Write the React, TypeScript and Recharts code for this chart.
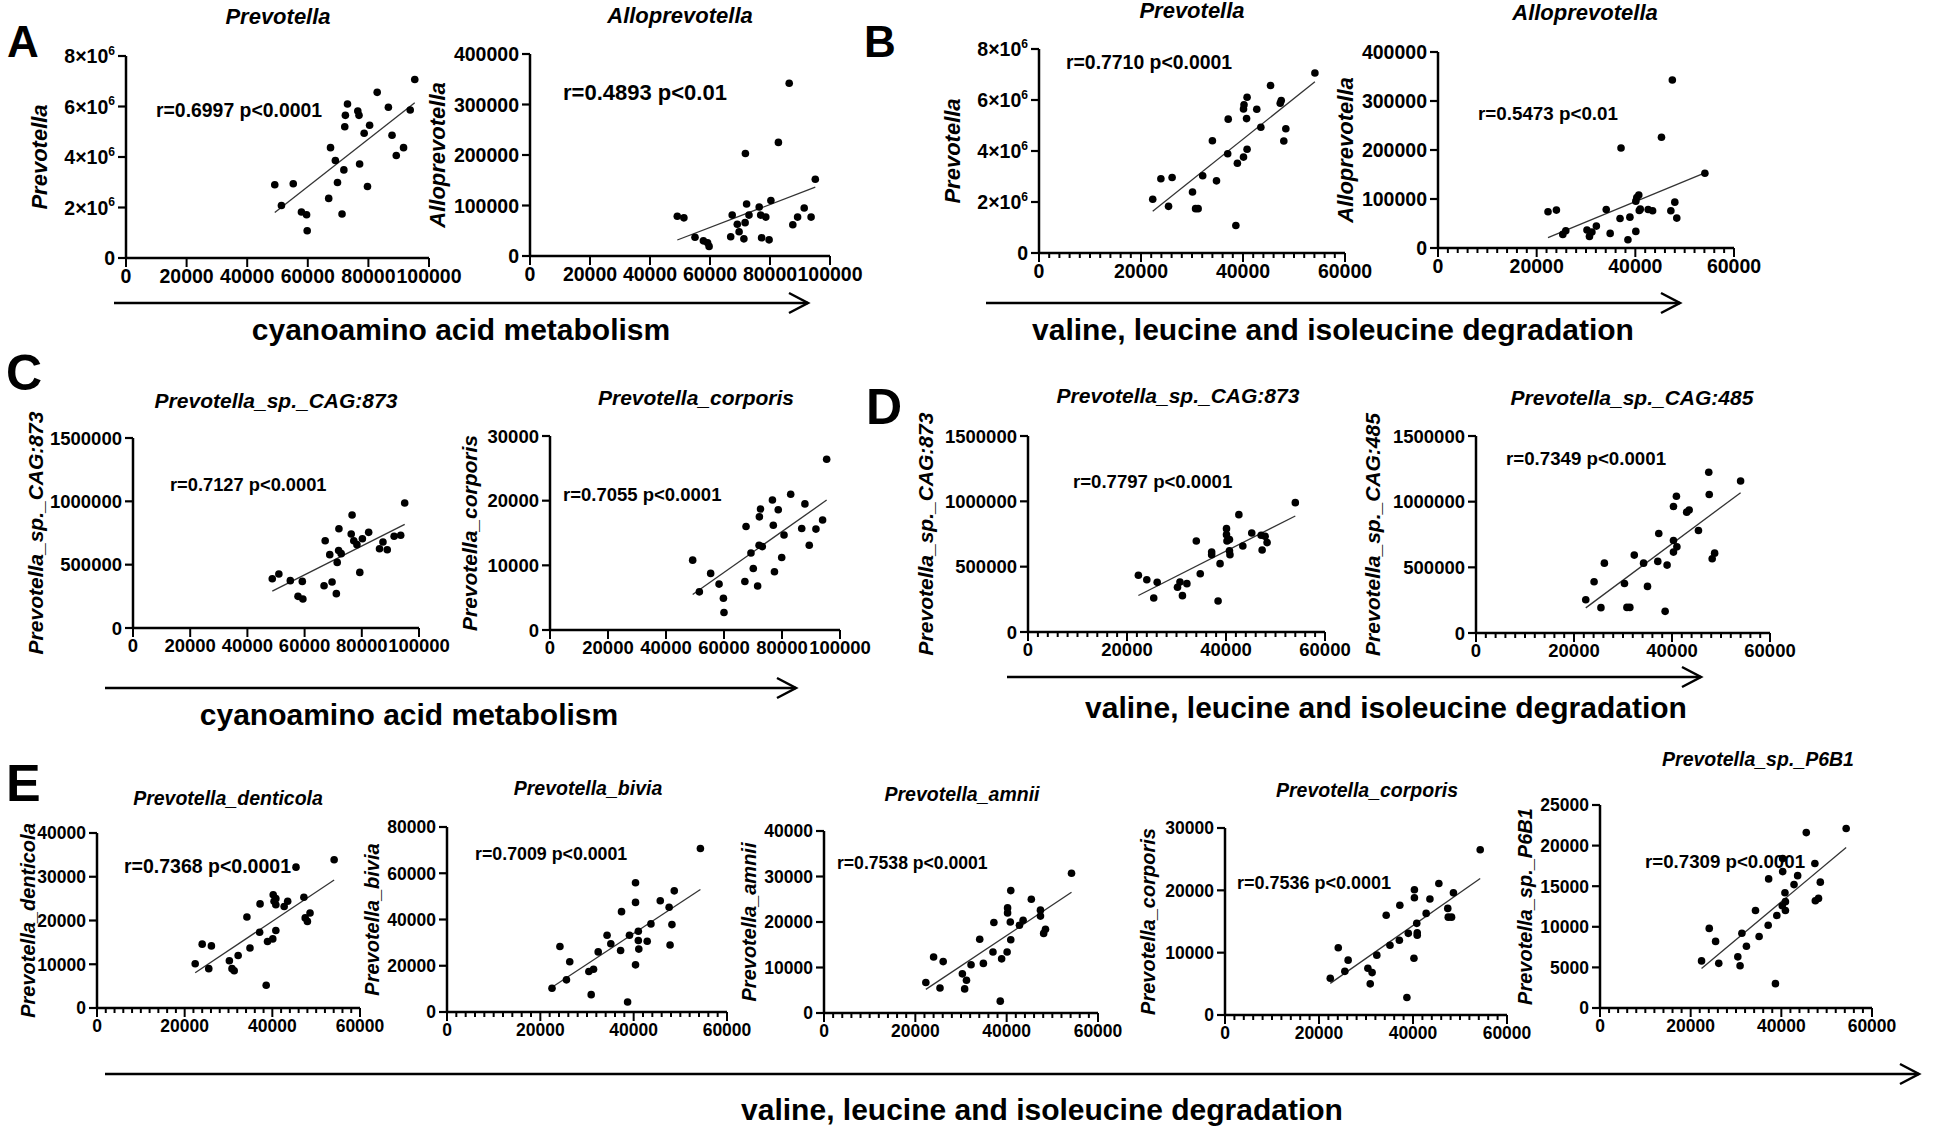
import React from "react";
import { ScatterChart, Scatter, XAxis, YAxis, ReferenceLine } from "recharts";

const FONT = '"Liberation Sans", Arial, Helvetica, sans-serif';

// ---- x tick values ----
const cyanoTicks = [0, 20000, 40000, 60000, 80000, 100000];
const valineTicks = [0, 20000, 40000, 60000];
const valineMinor = Array.from({ length: 31 }, (_, i) => i * 2000);

// ---- y tick values ----
const prevotellaTicks = [0, 2000000, 4000000, 6000000, 8000000];
const alloTicks = [0, 100000, 200000, 300000, 400000];
const cagTicks = [0, 500000, 1000000, 1500000];
const corporisTicks = [0, 10000, 20000, 30000];
const denticolaTicks = [0, 10000, 20000, 30000, 40000];
const biviaTicks = [0, 20000, 40000, 60000, 80000];
const amniiTicks = [0, 10000, 20000, 30000, 40000];
const p6b1Ticks = [0, 5000, 10000, 15000, 20000, 25000];

// ---- A: cyanoamino acid metabolism ----
const aPrevX = [49100, 51300, 55200, 57900, 59600, 59800, 66900, 67500, 69100, 69800, 71300, 71900, 72200, 72400, 73100, 76500, 76900, 77100, 78600, 79700, 80400, 82900, 86600, 87800, 89200, 91600, 93800, 95300];
const aPrevY = [2900000, 2080000, 2940000, 1820000, 1710000, 1080000, 2360000, 4370000, 3860000, 2990000, 1740000, 3490000, 5200000, 5650000, 6100000, 5820000, 5650000, 3720000, 4940000, 2830000, 5260000, 6560000, 5970000, 4860000, 4060000, 4370000, 5860000, 7070000];
const aAlloX = [49100, 51300, 55000, 57800, 59200, 59700, 66900, 67400, 69100, 69700, 71300, 71700, 71800, 72200, 73000, 76400, 76900, 77200, 78600, 79700, 80300, 82800, 86400, 87600, 89200, 91400, 93700, 95100];
const aAlloY = [78800, 75500, 37000, 30000, 26000, 19000, 38000, 81000, 63000, 48000, 34000, 66000, 203000, 103000, 81000, 97000, 81000, 36000, 77000, 32000, 110000, 225000, 342000, 62000, 77000, 95000, 77000, 152000];

// ---- B: valine, leucine and isoleucine degradation ----
const bPrevX = [22300, 23900, 25400, 26100, 30100, 30700, 31200, 32100, 34000, 34800, 37000, 37100, 38600, 38900, 40100, 40100, 40200, 40700, 40800, 40800, 42700, 43500, 45400, 47300, 47500, 48000, 48400, 54100];
const bPrevY = [2110000, 2910000, 1830000, 2960000, 2390000, 1740000, 1740000, 3030000, 4400000, 2830000, 3890000, 5250000, 1080000, 3520000, 3760000, 5650000, 5810000, 5270000, 6110000, 4070000, 5640000, 4930000, 6570000, 5870000, 5980000, 4390000, 4870000, 7060000];
const bAlloX = [22300, 24000, 25300, 25900, 30200, 30700, 31200, 32100, 34100, 34900, 36900, 37100, 38500, 38900, 40100, 40100, 40300, 40700, 40800, 41000, 42600, 43500, 45300, 47200, 47500, 48000, 48400, 54100];
const bAlloY = [73900, 77300, 27800, 35300, 36600, 23700, 32500, 44700, 78600, 29800, 60300, 204000, 16900, 63000, 33900, 95600, 103000, 108000, 76600, 79300, 78600, 75900, 226000, 75900, 343000, 93600, 61000, 152500];

// ---- C: cyanoamino acid metabolism ----
const cCagX = [48700, 51000, 55000, 57700, 59400, 59200, 66800, 67200, 68800, 69600, 71100, 71400, 71900, 72000, 72800, 76300, 76600, 77200, 78300, 79300, 80200, 82400, 86200, 87400, 88900, 91300, 93600, 95000];
const cCagY = [389000, 426000, 374000, 250000, 229000, 368000, 334000, 689000, 579000, 363000, 271000, 518000, 611000, 784000, 587000, 742000, 892000, 689000, 658000, 439000, 705000, 755000, 626000, 679000, 618000, 724000, 732000, 987000];
const cCorpX = [49200, 51500, 55400, 58300, 59800, 60000, 67200, 67600, 69300, 70100, 71600, 72100, 72200, 72600, 73200, 76700, 77000, 77400, 78700, 79900, 80700, 83000, 86800, 87900, 89400, 91700, 94000, 95400];
const cCorpY = [10800, 5900, 8750, 7100, 4900, 2700, 7500, 16000, 11900, 9500, 6800, 13100, 17500, 18700, 12900, 20100, 16200, 9000, 18600, 11200, 14700, 21000, 15700, 19500, 13100, 15600, 17000, 26400];

// ---- D: valine, leucine and isoleucine degradation ----
const dCag873X = [22300, 24000, 25400, 26100, 30200, 30700, 31200, 32100, 34000, 34800, 37100, 37100, 38400, 38800, 40100, 40100, 40200, 40700, 40700, 40800, 42600, 43400, 45200, 47100, 47300, 47900, 48300, 54000];
const dCag873Y = [434000, 400000, 260000, 380000, 342000, 383000, 278000, 370000, 696000, 446000, 612000, 592000, 237000, 523000, 791000, 745000, 696000, 707000, 622000, 592000, 898000, 658000, 758000, 740000, 628000, 732000, 684000, 990000];
const dCag485X = [22400, 24100, 25500, 26200, 30300, 30800, 31400, 32300, 34200, 35000, 37100, 37300, 38600, 39000, 40300, 40300, 40300, 41000, 40900, 43000, 43500, 45400, 47500, 47600, 48200, 48700, 54000];
const dCag485Y = [253000, 390000, 193000, 532000, 377000, 195000, 195000, 593000, 532000, 355000, 545000, 758000, 165000, 517000, 616000, 704000, 963000, 656000, 1041000, 920000, 937000, 780000, 1224000, 1054000, 565000, 608000, 1157000];

// ---- E: valine, leucine and isoleucine degradation ----
const eDentX = [22400, 24000, 25500, 26100, 30200, 30800, 31300, 32200, 34200, 34900, 37100, 37200, 38600, 38900, 40100, 40200, 40400, 40800, 40800, 40800, 42700, 43500, 45400, 47200, 47500, 48000, 48600, 54100];
const eDentY = [10100, 14600, 9000, 14200, 10800, 9000, 8500, 12000, 20800, 13700, 17300, 23800, 5200, 15200, 15800, 25900, 24400, 25000, 23600, 17700, 23200, 24400, 32200, 25300, 20600, 19800, 21700, 33900];
const eBiviaX = [22500, 24200, 25600, 26300, 30400, 30900, 31400, 32400, 34300, 35100, 37200, 37400, 38700, 39100, 40400, 40400, 40400, 41000, 41000, 41100, 42900, 43700, 45700, 47600, 47800, 48200, 48700, 54300];
const eBiviaY = [10300, 28300, 13900, 21700, 17500, 7500, 18500, 26000, 33200, 29500, 26600, 43400, 4300, 33200, 20400, 47400, 55900, 34900, 30900, 27200, 30600, 38100, 48100, 45300, 29000, 37800, 52400, 70700];
const eAmniiX = [22300, 24000, 25400, 26100, 30300, 30800, 31200, 32200, 34100, 34900, 37000, 37200, 38600, 38900, 40100, 40200, 40200, 40800, 40900, 40900, 42800, 43600, 45400, 47400, 47400, 48100, 48500, 54200];
const eAmniiY = [6700, 12300, 5500, 11300, 8600, 5300, 7200, 10600, 16200, 10900, 13400, 19900, 2600, 11900, 13400, 23100, 22000, 20000, 16100, 26900, 19300, 20400, 25000, 22600, 21300, 17500, 18400, 30700];
const eCorpX = [22400, 24100, 25500, 26200, 30400, 30900, 31300, 32300, 34300, 35100, 37100, 37200, 38700, 39000, 40200, 40300, 40300, 40800, 40900, 40900, 42800, 43600, 45500, 47400, 47500, 48200, 48600, 54300];
const eCorpY = [5900, 10800, 7000, 8800, 7500, 5000, 6800, 9600, 16000, 11200, 12000, 17600, 2800, 13100, 9100, 20100, 18800, 14700, 13200, 12800, 16300, 18600, 21100, 17100, 15700, 15700, 19600, 26500];
const eP6b1X = [22400, 24100, 25500, 26200, 30400, 30900, 31300, 32300, 34300, 35100, 37100, 37200, 38700, 39000, 40200, 40300, 40300, 40800, 40900, 40900, 42800, 43600, 45500, 47400, 47500, 48200, 48600, 54300];
const eP6b1Y = [5800, 9800, 8200, 5500, 6300, 5200, 9200, 7600, 12000, 8800, 10200, 15900, 3000, 11400, 12600, 18400, 16800, 14200, 12000, 13100, 15200, 16300, 21600, 17800, 13200, 13500, 15500, 22100];

// least-squares line through the points
function fit(xs: number[], ys: number[]) {
  const n = xs.length;
  const mx = xs.reduce((a, b) => a + b, 0) / n;
  const my = ys.reduce((a, b) => a + b, 0) / n;
  let sxy = 0;
  let sxx = 0;
  xs.forEach((x, i) => {
    sxy += (x - mx) * (ys[i] - my);
    sxx += (x - mx) * (x - mx);
  });
  const slope = sxy / sxx;
  return { slope, icpt: my - slope * mx };
}

const xTick = (fs: number, labels: number[]) => (p: any) => {
  const v = p.payload.value;
  const major = labels.includes(v);
  return (
    <g>
      <line x1={p.x} x2={p.x} y1={p.y} y2={p.y + (major ? 9 : 5)} stroke="#000" strokeWidth={2} />
      {major && (
        <text x={p.x} y={p.y + 11 + fs * 0.72} textAnchor="middle" fontSize={fs} fontWeight="bold" fontFamily={FONT} fill="#000">
          {v}
        </text>
      )}
    </g>
  );
};

const yTick = (fs: number, sci: boolean) => (p: any) => {
  const v = p.payload.value;
  return (
    <g>
      <line x1={p.x} x2={p.x - 8} y1={p.y} y2={p.y} stroke="#000" strokeWidth={2.2} />
      <text x={p.x - 11} y={p.y + fs * 0.36} textAnchor="end" fontSize={fs} fontWeight="bold" fontFamily={FONT} fill="#000">
        {sci && v !== 0 ? (
          <>
            <tspan>{v / 1000000}×10</tspan>
            <tspan dy={-fs * 0.42} fontSize={fs * 0.62}>6</tspan>
          </>
        ) : (
          v
        )}
      </text>
    </g>
  );
};

interface PlotCfg {
  xs: number[];
  ys: number[];
  xMax: number;
  xTicks: number[];
  xLabels: number[];
  yMax: number;
  yTicks: number[];
  sci?: boolean;
  box: { l: number; r: number; t: number; b: number };
  fs: number;
  title: string;
  titleX: number;
  titleY: number;
  titleSize: number;
  ylabel: string;
  ylabelDx: number;
  ylabelSize: number;
  ann: string;
  annX: number;
  annY: number;
  annSize: number;
}

const plots: PlotCfg[] = [
  { xs: aPrevX, ys: aPrevY, xMax: 100000, xTicks: cyanoTicks, xLabels: cyanoTicks, yMax: 8000000, yTicks: prevotellaTicks, sci: true,
    box: { l: 126, r: 429, t: 56, b: 258 }, fs: 19.5, title: "Prevotella", titleX: 278, titleY: 24, titleSize: 22,
    ylabel: "Prevotella", ylabelDx: 79, ylabelSize: 22, ann: "r=0.6997 p<0.0001", annX: 156, annY: 117, annSize: 19.4 },
  { xs: aAlloX, ys: aAlloY, xMax: 100000, xTicks: cyanoTicks, xLabels: cyanoTicks, yMax: 400000, yTicks: alloTicks,
    box: { l: 530, r: 830, t: 54, b: 256 }, fs: 19.5, title: "Alloprevotella", titleX: 680, titleY: 23, titleSize: 22,
    ylabel: "Alloprevotella", ylabelDx: 85, ylabelSize: 22, ann: "r=0.4893 p<0.01", annX: 563, annY: 100, annSize: 22 },
  { xs: bPrevX, ys: bPrevY, xMax: 60000, xTicks: valineMinor, xLabels: valineTicks, yMax: 8000000, yTicks: prevotellaTicks, sci: true,
    box: { l: 1039, r: 1345, t: 49, b: 253 }, fs: 19.5, title: "Prevotella", titleX: 1192, titleY: 18, titleSize: 22,
    ylabel: "Prevotella", ylabelDx: 79, ylabelSize: 22, ann: "r=0.7710 p<0.0001", annX: 1066, annY: 69, annSize: 19.4 },
  { xs: bAlloX, ys: bAlloY, xMax: 60000, xTicks: valineMinor, xLabels: valineTicks, yMax: 400000, yTicks: alloTicks,
    box: { l: 1438, r: 1734, t: 52, b: 248 }, fs: 19.5, title: "Alloprevotella", titleX: 1585, titleY: 20, titleSize: 22,
    ylabel: "Alloprevotella", ylabelDx: 85, ylabelSize: 22, ann: "r=0.5473 p<0.01", annX: 1478, annY: 120, annSize: 18.8 },
  { xs: cCagX, ys: cCagY, xMax: 100000, xTicks: cyanoTicks, xLabels: cyanoTicks, yMax: 1500000, yTicks: cagTicks,
    box: { l: 133, r: 419, t: 438, b: 628 }, fs: 18.5, title: "Prevotella_sp._CAG:873", titleX: 276, titleY: 408, titleSize: 21,
    ylabel: "Prevotella_sp._CAG:873", ylabelDx: 90, ylabelSize: 21, ann: "r=0.7127 p<0.0001", annX: 170, annY: 491, annSize: 18.3 },
  { xs: cCorpX, ys: cCorpY, xMax: 100000, xTicks: cyanoTicks, xLabels: cyanoTicks, yMax: 30000, yTicks: corporisTicks,
    box: { l: 550, r: 840, t: 436, b: 630 }, fs: 18.5, title: "Prevotella_corporis", titleX: 696, titleY: 405, titleSize: 21,
    ylabel: "Prevotella_corporis", ylabelDx: 73, ylabelSize: 21, ann: "r=0.7055 p<0.0001", annX: 563, annY: 501, annSize: 18.5 },
  { xs: dCag873X, ys: dCag873Y, xMax: 60000, xTicks: valineMinor, xLabels: valineTicks, yMax: 1500000, yTicks: cagTicks,
    box: { l: 1028, r: 1325, t: 436, b: 632 }, fs: 18.5, title: "Prevotella_sp._CAG:873", titleX: 1178, titleY: 403, titleSize: 21,
    ylabel: "Prevotella_sp._CAG:873", ylabelDx: 95, ylabelSize: 21, ann: "r=0.7797 p<0.0001", annX: 1073, annY: 488, annSize: 18.6 },
  { xs: dCag485X, ys: dCag485Y, xMax: 60000, xTicks: valineMinor, xLabels: valineTicks, yMax: 1500000, yTicks: cagTicks,
    box: { l: 1476, r: 1770, t: 436, b: 633 }, fs: 18.5, title: "Prevotella_sp._CAG:485", titleX: 1632, titleY: 405, titleSize: 21,
    ylabel: "Prevotella_sp._CAG:485", ylabelDx: 96, ylabelSize: 21, ann: "r=0.7349 p<0.0001", annX: 1506, annY: 465, annSize: 18.7 },
  { xs: eDentX, ys: eDentY, xMax: 60000, xTicks: valineMinor, xLabels: valineTicks, yMax: 40000, yTicks: denticolaTicks,
    box: { l: 97, r: 360, t: 833, b: 1008 }, fs: 17.5, title: "Prevotella_denticola", titleX: 228, titleY: 805, titleSize: 19.5,
    ylabel: "Prevotella_denticola", ylabelDx: 62, ylabelSize: 20, ann: "r=0.7368 p<0.0001", annX: 124, annY: 873, annSize: 19.5 },
  { xs: eBiviaX, ys: eBiviaY, xMax: 60000, xTicks: valineMinor, xLabels: valineTicks, yMax: 80000, yTicks: biviaTicks,
    box: { l: 447, r: 727, t: 827, b: 1012 }, fs: 17.5, title: "Prevotella_bivia", titleX: 588, titleY: 795, titleSize: 19.5,
    ylabel: "Prevotella_bivia", ylabelDx: 68, ylabelSize: 20, ann: "r=0.7009 p<0.0001", annX: 475, annY: 860, annSize: 17.8 },
  { xs: eAmniiX, ys: eAmniiY, xMax: 60000, xTicks: valineMinor, xLabels: valineTicks, yMax: 40000, yTicks: amniiTicks,
    box: { l: 824, r: 1098, t: 831, b: 1013 }, fs: 17.5, title: "Prevotella_amnii", titleX: 962, titleY: 801, titleSize: 19.5,
    ylabel: "Prevotella_amnii", ylabelDx: 68, ylabelSize: 20, ann: "r=0.7538 p<0.0001", annX: 837, annY: 869, annSize: 17.6 },
  { xs: eCorpX, ys: eCorpY, xMax: 60000, xTicks: valineMinor, xLabels: valineTicks, yMax: 30000, yTicks: corporisTicks,
    box: { l: 1225, r: 1507, t: 828, b: 1015 }, fs: 17.5, title: "Prevotella_corporis", titleX: 1367, titleY: 797, titleSize: 19.5,
    ylabel: "Prevotella_corporis", ylabelDx: 70, ylabelSize: 20, ann: "r=0.7536 p<0.0001", annX: 1237, annY: 889, annSize: 18 },
  { xs: eP6b1X, ys: eP6b1Y, xMax: 60000, xTicks: valineMinor, xLabels: valineTicks, yMax: 25000, yTicks: p6b1Ticks,
    box: { l: 1600, r: 1872, t: 805, b: 1008 }, fs: 17.5, title: "Prevotella_sp._P6B1", titleX: 1758, titleY: 766, titleSize: 19.5,
    ylabel: "Prevotella_sp._P6B1", ylabelDx: 68, ylabelSize: 20, ann: "r=0.7309 p<0.0001", annX: 1645, annY: 868, annSize: 18.7 },
];

const arrows = [
  { x1: 114, x2: 808, y: 303, text: "cyanoamino acid metabolism", tx: 461, ty: 340 },
  { x1: 986, x2: 1680, y: 303, text: "valine, leucine and isoleucine degradation", tx: 1333, ty: 340 },
  { x1: 105, x2: 796, y: 688, text: "cyanoamino acid metabolism", tx: 409, ty: 725 },
  { x1: 1007, x2: 1701, y: 677, text: "valine, leucine and isoleucine degradation", tx: 1386, ty: 718 },
  { x1: 105, x2: 1919, y: 1074, text: "valine, leucine and isoleucine degradation", tx: 1042, ty: 1120 },
];

const letters = [
  { t: "A", x: 7, y: 57, s: 44 },
  { t: "B", x: 864, y: 57, s: 44 },
  { t: "C", x: 6, y: 390, s: 50 },
  { t: "D", x: 866, y: 424, s: 50 },
  { t: "E", x: 6, y: 801, s: 52 },
];

const YW = 120;
const MT = 20;
const MR = 50;
const XH = 45;

function Plot({ cfg }: { cfg: PlotCfg }) {
  const { l, r, t, b } = cfg.box;
  const pw = r - l;
  const ph = b - t;
  const pts = cfg.xs.map((x, i) => ({ x, y: cfg.ys[i] }));
  const { slope, icpt } = fit(cfg.xs, cfg.ys);
  const x0 = Math.min(...cfg.xs);
  const x1 = Math.max(...cfg.xs);
  return (
    <div style={{ position: "absolute", left: l - YW, top: t - MT }}>
      <ScatterChart width={pw + YW + MR} height={ph + MT + XH} margin={{ top: MT, right: MR, bottom: 0, left: 0 }}>
        <XAxis
          type="number"
          dataKey="x"
          domain={[0, cfg.xMax]}
          ticks={cfg.xTicks}
          interval={0}
          height={XH}
          tickSize={0}
          tickMargin={0}
          tickLine={false}
          axisLine={{ stroke: "#000", strokeWidth: 2.5 }}
          tick={xTick(cfg.fs, cfg.xLabels)}
        />
        <YAxis
          type="number"
          dataKey="y"
          domain={[0, cfg.yMax]}
          ticks={cfg.yTicks}
          interval={0}
          width={YW}
          tickSize={0}
          tickMargin={0}
          tickLine={false}
          axisLine={{ stroke: "#000", strokeWidth: 2.5 }}
          tick={yTick(cfg.fs, !!cfg.sci)}
        />
        <ReferenceLine
          segment={[
            { x: x0, y: slope * x0 + icpt },
            { x: x1, y: slope * x1 + icpt },
          ]}
          stroke="#333"
          strokeWidth={1.3}
        />
        <Scatter
          data={pts}
          isAnimationActive={false}
          shape={(p: any) => <circle cx={p.cx} cy={p.cy} r={3.8} fill="#000" />}
        />
      </ScatterChart>
    </div>
  );
}

export default function App() {
  return (
    <div style={{ position: "absolute", left: 0, top: 0, width: 1944, height: 1133, background: "#fff", fontFamily: FONT }}>
      {plots.map((cfg, i) => (
        <Plot key={i} cfg={cfg} />
      ))}
      <svg width={1944} height={1133} style={{ position: "absolute", left: 0, top: 0, pointerEvents: "none" }} fontFamily={FONT}>
        {plots.map((c, i) => (
          <g key={i}>
            <text x={c.titleX} y={c.titleY} textAnchor="middle" fontSize={c.titleSize} fontWeight="bold" fontStyle="italic" fill="#000">
              {c.title}
            </text>
            <text
              transform={`translate(${c.box.l - c.ylabelDx},${(c.box.t + c.box.b) / 2}) rotate(-90)`}
              textAnchor="middle"
              fontSize={c.ylabelSize}
              fontWeight="bold"
              fontStyle="italic"
              fill="#000"
            >
              {c.ylabel}
            </text>
            <text x={c.annX} y={c.annY} fontSize={c.annSize} fontWeight="bold" fill="#000">
              {c.ann}
            </text>
          </g>
        ))}
        {arrows.map((a, i) => (
          <g key={i}>
            <line x1={a.x1} x2={a.x2} y1={a.y} y2={a.y} stroke="#000" strokeWidth={2.5} />
            <polyline points={`${a.x2 - 19},${a.y - 10} ${a.x2},${a.y} ${a.x2 - 19},${a.y + 10}`} fill="none" stroke="#000" strokeWidth={2.5} />
            <text x={a.tx} y={a.ty} textAnchor="middle" fontSize={30} fontWeight="bold" fill="#000">
              {a.text}
            </text>
          </g>
        ))}
        {letters.map((L) => (
          <text key={L.t} x={L.x} y={L.y} fontSize={L.s} fontWeight="bold" fill="#000">
            {L.t}
          </text>
        ))}
      </svg>
    </div>
  );
}
